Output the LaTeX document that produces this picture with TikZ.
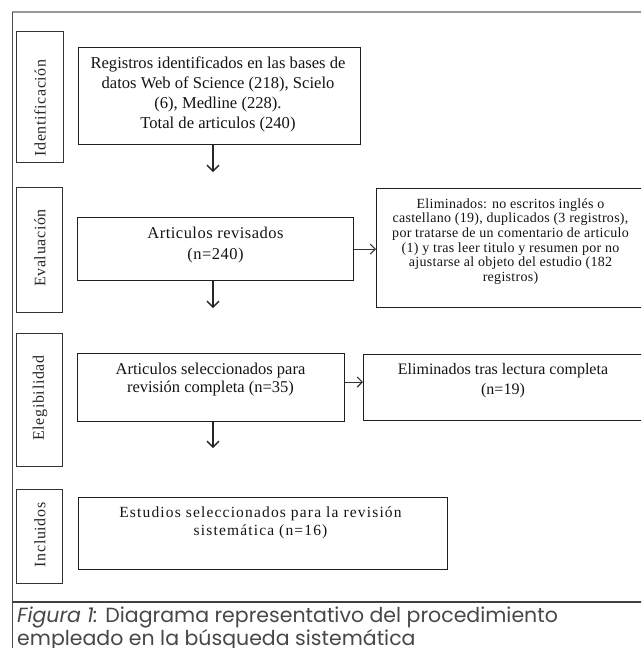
\documentclass[tikz,border=0pt]{standalone}
\usepackage{fontspec}
\setmainfont{Liberation Serif}
\newfontfamily\capfont{Poppins}
\usetikzlibrary{arrows.meta}
\tikzset{
  box/.style={draw=black!88, line width=1.2pt, rectangle, inner sep=0pt, anchor=north west},
  sidebox/.style={draw=black!80, line width=1.4pt, rectangle, inner sep=0pt, anchor=north west},
  txt/.style={align=center, inner sep=0pt, text=black!92},
  sidetxt/.style={inner sep=0pt, rotate=90, text=black!85, font=\fontsize{16}{18}\selectfont\addfontfeatures{LetterSpace=4}},
  downarr/.style={draw=black!85, line width=1.3pt, -{Straight Barb[length=6pt,width=12pt,line width=1.3pt]}},
  rightarr/.style={draw=black!80, line width=1.1pt, -{Straight Barb[length=5pt,width=10pt,line width=1.1pt]}},
  captxt/.style={anchor=base west, inner sep=0pt, text=black!72, font=\capfont\fontsize{20.5}{24}\selectfont},
}
\begin{document}
\begin{tikzpicture}[x=1pt,y=-1pt]
\useasboundingbox (0,0) rectangle (641,648);
\clip (0,0) rectangle (641,648);
% frame
\draw[draw=black!40, line width=1.8pt] (12,12) -- (660,12);
\draw[draw=black!70, line width=1pt] (12,12) -- (12,660);
\draw[draw=black!75, line width=1.2pt] (12,602) -- (660,602);

% side boxes
\node[sidebox, minimum width=47pt, minimum height=131pt] (s1) at (16,31) {};
\node[sidebox, minimum width=46pt, minimum height=125pt] (s2) at (16,187) {};
\node[sidebox, minimum width=46pt, minimum height=133pt] (s3) at (16,333) {};
\node[sidebox, minimum width=46pt, minimum height=94pt] (s4) at (16,489) {};
\node[sidetxt] at (40,108) {Identificación};
\node[sidetxt] at (40,248) {Evaluación};
\node[sidetxt] at (40,398) {Elegibilidad};
\node[sidetxt] at (40,535) {Incluidos};

% main boxes
\node[box, minimum width=282pt, minimum height=97pt] (b1) at (78,47) {};
\node[box, minimum width=276pt, minimum height=63pt] (b2) at (77,217) {};
\node[box, minimum width=266pt, minimum height=119pt] (b3) at (376,188) {};
\node[box, minimum width=267pt, minimum height=68pt] (b4) at (77,353) {};
\node[box, minimum width=280pt, minimum height=66pt] (b5) at (363,354) {};
\node[box, minimum width=369pt, minimum height=72pt] (b6) at (78,497) {};

% texts
\node[txt, font=\fontsize{16.6}{20}\selectfont] at (218,94)
  {Registros identificados en las bases de\\datos Web of Science (218), Scielo\\(6), Medline (228).\\Total de articulos (240)};
\node[txt, font=\fontsize{16.5}{21}\selectfont\addfontfeatures{LetterSpace=3}] at (215.5,245.5)
  {Articulos revisados\\(n=240)};
\node[txt, font=\fontsize{14}{14.7}\selectfont\addfontfeatures{LetterSpace=2}] at (510.5,241.5)
  {Eliminados: no escritos inglés o\\castellano (19), duplicados (3 registros),\\por tratarse de un comentario de articulo\\(1) y tras leer titulo y resumen por no\\ajustarse al objeto del estudio (182\\registros)};
\node[txt, font=\fontsize{16.5}{18}\selectfont] at (210.5,380)
  {Articulos seleccionados para\\revisión completa (n=35)};
\node[txt, font=\fontsize{16}{20}\selectfont] at (503,381)
  {Eliminados tras lectura completa\\(n=19)};
\node[txt, font=\fontsize{15.5}{18}\selectfont\addfontfeatures{LetterSpace=7.5}] at (260.5,523)
  {Estudios seleccionados para la revisión\\sistemática (n=16)};

% connectors
\coordinate (a1) at (213,172);
\coordinate (a2) at (213,308);
\coordinate (a3) at (213,448);
\coordinate (r2) at (0,382);
\draw[downarr] (b1.south -| a1) -- (a1);
\draw[downarr] (b2.south -| a2) -- (a2);
\draw[downarr] (b4.south -| a3) -- (a3);
\draw[rightarr] (b2.east) -- (b2.east -| b3.west);
\draw[rightarr, line width=0.9pt] (b4.east |- r2) -- (b5.west |- r2);

% caption
\node[captxt] (cap1) at (17,622.5)
  {\textit{Figura 1:} Diagrama representativo del procedimiento};
\node[captxt] (cap2) at (17,645.5)
  {empleado en la búsqueda sistemática};
\end{tikzpicture}
\end{document}
